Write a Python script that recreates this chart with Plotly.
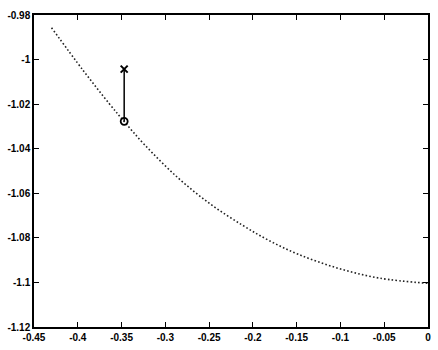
import plotly.graph_objects as go

# Dotted curve
curve_x = [-0.43, -0.394, -0.364, -0.347, -0.324, -0.286, -0.249, -0.212, -0.182, -0.148, -0.103, -0.055, 0.0]
curve_y = [-0.9857, -1.0048, -1.0198, -1.0278, -1.0381, -1.0529, -1.0647, -1.0743, -1.0811, -1.0874, -1.0936,
           -1.0981, -1.1004]

# Vertical segment: circle (bottom) and cross (top)
seg_x = [-0.347, -0.347]
seg_y = [-1.0277, -1.0043]

x_ticks = [-0.45, -0.4, -0.35, -0.3, -0.25, -0.2, -0.15, -0.1, -0.05, 0]
x_tick_text = ["-0.45", "-0.4", "-0.35", "-0.3", "-0.25", "-0.2", "-0.15", "-0.1", "-0.05", "0"]
y_ticks = [-1.12, -1.1, -1.08, -1.06, -1.04, -1.02, -1.0, -0.98]
y_tick_text = ["-1.12", "-1.1", "-1.08", "-1.06", "-1.04", "-1.02", "-1", "-0.98"]

fig = go.Figure()
fig.add_trace(go.Scatter(x=curve_x, y=curve_y, mode="lines",
                         line=dict(color="#222222", width=1.6, dash="1.6px,2.2px", shape="spline", smoothing=1.0),
                         hoverinfo="skip"))
fig.add_trace(go.Scatter(x=seg_x, y=seg_y, mode="lines",
                         line=dict(color="black", width=1.5), hoverinfo="skip"))
fig.add_trace(go.Scatter(x=[seg_x[0]], y=[seg_y[0]], mode="markers",
                         marker=dict(symbol="circle-open", size=7, color="black", line=dict(width=1.8))))
fig.add_trace(go.Scatter(x=[seg_x[1]], y=[seg_y[1]], mode="markers",
                         marker=dict(symbol="x-thin", size=7, color="black", line=dict(width=2, color="black"))))

axis_common = dict(showgrid=False, zeroline=False, showline=True, linecolor="black", linewidth=1.5,
                   mirror="ticks", ticks="inside", ticklen=5, tickwidth=1.2, tickcolor="black",
                   tickfont=dict(family="Liberation Sans, Arial", size=10, color="black", weight="bold"))

fig.update_layout(
    width=438, height=350,
    margin=dict(l=30, r=7, t=15, b=18),
    paper_bgcolor="white", plot_bgcolor="white",
    showlegend=False,
    xaxis=dict(range=[-0.45, 0], tickvals=x_ticks, ticktext=x_tick_text, **axis_common),
    yaxis=dict(range=[-1.12, -0.98], tickvals=y_ticks, ticktext=y_tick_text, **axis_common),
)
fig.write_html("out.html")
